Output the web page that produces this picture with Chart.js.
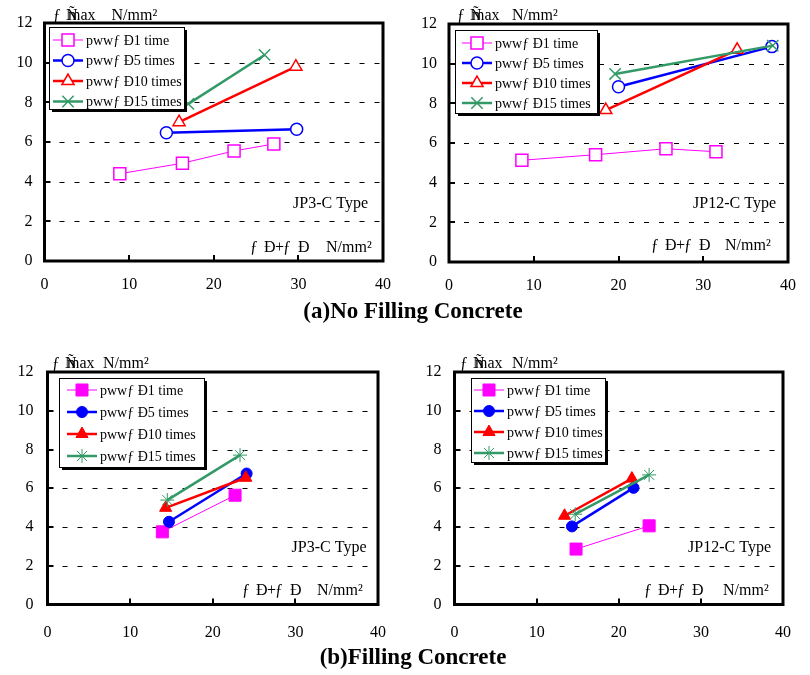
<!DOCTYPE html>
<html>
<head>
<meta charset="utf-8">
<script src="https://cdn.jsdelivr.net/npm/chart.js@4.4.0/dist/chart.umd.min.js"></script>
<style>
body { margin: 0; background: #fff; width: 810px; height: 675px; position: relative; overflow: hidden;
       font-family: 'Liberation Serif', 'Times New Roman', serif; }
canvas { position: absolute; }
.cap { position: absolute; left: 0; width: 826px; text-align: center; font-weight: bold; font-size: 23px; }
</style>
</head>
<body>
<canvas id="c1" width="405" height="310" style="left:0;top:0"></canvas>
<canvas id="c2" width="405" height="310" style="left:405px;top:0"></canvas>
<canvas id="c3" width="405" height="330" style="left:0;top:330px"></canvas>
<canvas id="c4" width="405" height="330" style="left:405px;top:330px"></canvas>
<div class="cap" style="top:298px">(a)No Filling Concrete</div>
<div class="cap" style="top:644px">(b)Filling Concrete</div>
<script>
var seriesNames = ['pwwƒ Ð1 time', 'pwwƒ Ð5 times', 'pwwƒ Ð10 times', 'pwwƒ Ð15 times'];
var typeNames = ['JP3-C Type', 'JP12-C Type'];
var unitText = 'N/mm²';

// (a) no filling concrete
var noFillJP3X = [[8.9, 16.3, 22.4, 27.1], [14.4, 29.8], [15.9, 29.7], [17.0, 26.0]];
var noFillJP3Y = [[4.40, 4.93, 5.55, 5.90], [6.47, 6.64], [7.00, 9.80], [7.92, 10.39]];
var noFillJP12X = [[8.6, 17.3, 25.6, 31.5], [20.0, 38.1], [18.5, 34.0], [19.6, 38.2]];
var noFillJP12Y = [[5.13, 5.41, 5.71, 5.56], [8.84, 10.86], [7.66, 10.70], [9.48, 10.91]];
// (b) filling concrete
var fillJP3X = [[13.9, 22.7], [14.7, 24.1], [14.3, 24.0], [14.5, 23.3]];
var fillJP3Y = [[3.75, 5.64], [4.27, 6.76], [4.99, 6.54], [5.39, 7.71]];
var fillJP12X = [[14.8, 23.7], [14.3, 21.8], [13.4, 21.6], [14.7, 23.7]];
var fillJP12Y = [[2.86, 4.06], [4.03, 6.02], [4.58, 6.50], [4.66, 6.69]];

var seriesColor = ['#ff00ff', '#0000ff', '#ff0000', '#339966'];
var lineWidths = [1, 2.5, 2.5, 2.5];
var openStyle = ['rect', 'circle', 'triangle', 'crossRot'];
var openRadius = [8.5, 6, 7, 8];
var filledStyle = ['rect', 'circle', 'triangle', 'star'];
var filledRadius = [8.5, 5.5, 7, 7];
var FONT = "'Liberation Serif', 'Times New Roman', serif";

function drawMarker(ctx, ds, x, y) {
    ctx.fillStyle = ds.pointBackgroundColor;
    ctx.strokeStyle = ds.pointBorderColor;
    ctx.lineWidth = ds.pointBorderWidth;
    Chart.helpers.drawPoint(ctx, {
        pointStyle: ds.pointStyle, radius: ds.pointRadius,
        borderWidth: ds.pointBorderWidth, rotation: 0
    }, x, y);
}

// garbled axis titles, drawn piece by piece so the glyphs overlap like the original
function drawPieces(ctx, pieces, x, y) {
    pieces.forEach(function(p) { ctx.fillText(p[0], x + p[1], y); });
}
var yTitlePieces = [['ƒ', 0], ['Ñ', 13], ['max', 15]];
var xTitlePieces = [['ƒ', 0], ['Ð', 14], ['+', 25], ['ƒ', 33], ['Ð', 48]];

var decoPlugin = {
    id: 'deco',
    beforeDatasetsDraw: function(chart) {
        var ctx = chart.ctx, a = chart.chartArea, ys = chart.scales.y;
        ctx.save();
        ctx.strokeStyle = '#000';
        ctx.lineWidth = 1;
        ctx.setLineDash([5, 10]);
        ys.ticks.forEach(function(t) {
            if (t.value <= ys.min || t.value >= ys.max) return;
            var py = Math.round(ys.getPixelForValue(t.value)) + 0.5;
            ctx.beginPath();
            ctx.moveTo(a.left, py);
            ctx.lineTo(a.right, py);
            ctx.stroke();
        });
        ctx.restore();
    },
    afterDatasetsDraw: function(chart, args, o) {
        var ctx = chart.ctx, a = chart.chartArea, xs = chart.scales.x, ys = chart.scales.y;
        ctx.save();
        // frame and inner ticks
        ctx.strokeStyle = '#000';
        ctx.lineWidth = 3;
        ctx.strokeRect(a.left, a.top, a.right - a.left, a.bottom - a.top);
        ctx.lineWidth = 2;
        xs.ticks.forEach(function(t) {
            if (t.value <= xs.min || t.value >= xs.max) return;
            var px = Math.round(xs.getPixelForValue(t.value));
            ctx.beginPath(); ctx.moveTo(px, a.bottom); ctx.lineTo(px, a.bottom - 6); ctx.stroke();
        });
        ys.ticks.forEach(function(t) {
            if (t.value <= ys.min || t.value >= ys.max) return;
            var py = Math.round(ys.getPixelForValue(t.value));
            ctx.beginPath(); ctx.moveTo(a.left, py); ctx.lineTo(a.left + 6, py); ctx.stroke();
        });

        // legend box with shadow
        var L = o.legend;
        var bx = a.left + L.dx, by = a.top + L.dy;
        ctx.fillStyle = '#000';
        ctx.fillRect(bx + 3, by + 3, L.w, L.h);
        ctx.fillStyle = '#fff';
        ctx.fillRect(bx, by, L.w, L.h);
        ctx.lineWidth = 1;
        ctx.strokeRect(bx + 0.5, by + 0.5, L.w, L.h);
        ctx.font = '14px ' + FONT;
        ctx.textBaseline = 'middle';
        ctx.textAlign = 'left';
        chart.data.datasets.forEach(function(ds, i) {
            var ry = by + L.row0 + i * L.step;
            var sx = bx + L.sx;
            ctx.strokeStyle = ds.borderColor;
            ctx.lineWidth = ds.borderWidth;
            ctx.beginPath(); ctx.moveTo(sx, ry); ctx.lineTo(sx + 30, ry); ctx.stroke();
            drawMarker(ctx, ds, sx + 15, ry);
            ctx.fillStyle = '#000';
            ctx.fillText(ds.label, sx + 33, ry + 1);
        });

        // axis texts and type label
        ctx.fillStyle = '#000';
        ctx.textBaseline = 'alphabetic';
        ctx.font = '16px ' + FONT;
        var T = o.texts;
        drawPieces(ctx, yTitlePieces, a.left + T.yx, a.top - T.yb);
        ctx.fillText(unitText, a.left + T.yu, a.top - T.yb);
        drawPieces(ctx, xTitlePieces, a.right - T.xx, a.bottom - T.xb);
        ctx.fillText(unitText, a.right - T.xu, a.bottom - T.xb);
        ctx.textAlign = 'right';
        ctx.fillText(o.typeName, a.right - T.tr, a.bottom - T.tb);
        ctx.restore();
    }
};

function makePanel(id, xVals, yVals, filled, typeName, lay) {
    var datasets = xVals.map(function(col, i) {
        return {
            label: seriesNames[i],
            data: col.map(function(x, j) { return { x: x, y: yVals[i][j] }; }),
            showLine: true,
            borderColor: seriesColor[i],
            borderWidth: lineWidths[i],
            pointStyle: filled ? filledStyle[i] : openStyle[i],
            pointRadius: filled ? filledRadius[i] : openRadius[i],
            pointBorderWidth: filled ? 1 : 1.5,
            pointBackgroundColor: filled ? seriesColor[i] : '#fff',
            pointBorderColor: seriesColor[i],
            order: 3 - i
        };
    });
    var pad = { left: 4, right: 15, top: lay.area.t, bottom: 10 };
    var chart = new Chart(document.getElementById(id), {
        type: 'scatter',
        data: { datasets: datasets },
        options: {
            responsive: false,
            animation: false,
            devicePixelRatio: 1,
            layout: { padding: pad },
            scales: {
                x: {
                    type: 'linear', min: 0, max: 40,
                    grid: { display: false, drawTicks: false },
                    border: { display: false },
                    ticks: { stepSize: 10, color: '#000', padding: lay.xPad, font: { family: FONT, size: 16 } },
                    afterFit: function(s) { s.height = 35; }
                },
                y: {
                    min: 0, max: 12,
                    grid: { display: false, drawTicks: false },
                    border: { display: false },
                    ticks: { stepSize: 2, color: '#000', padding: lay.yPad, font: { family: FONT, size: 16 } },
                    afterFit: function(s) { s.width = 40; }
                }
            },
            plugins: {
                legend: { display: false },
                tooltip: { enabled: false },
                deco: { legend: lay.legend, texts: lay.texts, typeName: typeName }
            }
        },
        plugins: [decoPlugin]
    });
    // nudge the layout padding until the plot box sits where the original's does
    for (var k = 0; k < 2; k++) {
        var a = chart.chartArea;
        pad.left += lay.area.l - a.left;
        pad.right += a.right - lay.area.r;
        pad.top += lay.area.t - a.top;
        pad.bottom += a.bottom - lay.area.b;
        chart.options.layout.padding = Object.assign({}, pad);
        chart.update();
    }
    return chart;
}

makePanel('c1', noFillJP3X, noFillJP3Y, false, typeNames[0], {
    area: { l: 44.5, t: 23, r: 390, b: 261 }, xPad: 14, yPad: 12,
    legend: { dx: 4.5, dy: 4, w: 135, h: 82, row0: 13, step: 20.5, sx: 4 },
    texts: { yx: 8.5, yu: 67, yb: 3, xx: 133, xu: 57, xb: 9, tr: 15, tb: 53 }
});
makePanel('c2', noFillJP12X, noFillJP12Y, false, typeNames[1], {
    area: { l: 44, t: 24, r: 390, b: 262 }, xPad: 14, yPad: 12,
    legend: { dx: 6, dy: 6, w: 142, h: 83, row0: 13, step: 20, sx: 7 },
    texts: { yx: 8, yu: 63, yb: 4, xx: 137, xu: 63, xb: 12, tr: 12, tb: 54 }
});
makePanel('c3', fillJP3X, fillJP3Y, true, typeNames[0], {
    area: { l: 47.5, t: 42, r: 389.5, b: 274.5 }, xPad: 19, yPad: 14,
    legend: { dx: 11.5, dy: 6, w: 145, h: 89, row0: 12, step: 22, sx: 8 },
    texts: { yx: 4.5, yu: 55.5, yb: 4, xx: 136, xu: 61, xb: 9.5, tr: 11.5, tb: 52.5 }
});
makePanel('c4', fillJP12X, fillJP12Y, true, typeNames[1], {
    area: { l: 49.5, t: 42, r: 392, b: 274.5 }, xPad: 19, yPad: 13,
    legend: { dx: 16.5, dy: 6, w: 134, h: 84, row0: 12, step: 21, sx: 3 },
    texts: { yx: 5.5, yu: 57.5, yb: 4, xx: 139, xu: 60, xb: 9.5, tr: 12, tb: 52.5 }
});
</script>
</body>
</html>
